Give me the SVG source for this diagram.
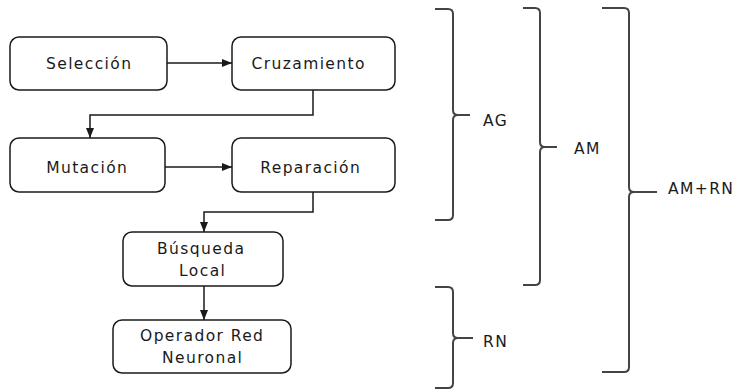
<svg xmlns="http://www.w3.org/2000/svg" width="739" height="391" viewBox="0 0 739 391">
<style>
.box{fill:#fff;stroke:#1a1a1a;stroke-width:1.5}
.t{font-family:"DejaVu Sans",Verdana,sans-serif;font-size:15.5px;letter-spacing:1.4px;fill:#1a1a1a;text-anchor:middle}
.lbl{font-family:"DejaVu Sans",Verdana,sans-serif;font-size:15.5px;letter-spacing:1.4px;fill:#1a1a1a}
.conn{fill:none;stroke:#1a1a1a;stroke-width:1.5;marker-end:url(#ah)}
.brace{fill:none;stroke:#444;stroke-width:2;stroke-linejoin:round}
</style>
<defs>
<marker id="ah" markerUnits="userSpaceOnUse" markerWidth="10" markerHeight="10" viewBox="0 0 10 10" refX="10" refY="5" orient="auto">
<path d="M0,1 L10,5 L0,9 Z" fill="#1a1a1a"/>
</marker>
</defs>
<rect width="739" height="391" fill="#fff"/>
<g id="connectors">
<path class="conn" d="M167,63 H232"/>
<path class="conn" d="M313,90 V115 H90 V138"/>
<path class="conn" d="M165,167 H232"/>
<path class="conn" d="M313,192 V212 H204 V232"/>
<path class="conn" d="M204,286 V320"/>
</g>
<g id="seleccion"><rect class="box" x="10" y="37" width="157" height="53" rx="9"/><text class="t" x="89.2" y="69">Selección</text></g>
<g id="cruzamiento"><rect class="box" x="232" y="37" width="163" height="53" rx="9"/><text class="t" x="308.7" y="69">Cruzamiento</text></g>
<g id="mutacion"><rect class="box" x="10" y="138" width="155" height="54" rx="9"/><text class="t" x="87.2" y="173">Mutación</text></g>
<g id="reparacion"><rect class="box" x="232" y="138" width="163" height="54" rx="9"/><text class="t" x="310.7" y="173">Reparación</text></g>
<g id="busqueda"><rect class="box" x="123" y="232" width="160" height="54" rx="9"/><text class="t" x="201.2" y="254">Búsqueda</text><text class="t" x="202.7" y="276">Local</text></g>
<g id="operador"><rect class="box" x="113" y="320" width="178" height="53" rx="9"/><text class="t" x="202.2" y="341">Operador Red</text><text class="t" x="202.7" y="363">Neuronal</text></g>
<g id="brace-ag"><path class="brace" d="M435,9 H448 Q453,9 453,14 V110 Q453,115 458,115 H470 M458,115 Q453,115 453,120 V215 Q453,220 448,220 H435"/><text class="lbl" x="483" y="126">AG</text></g>
<g id="brace-am"><path class="brace" d="M523,8 H535 Q540,8 540,13 V142 Q540,147 545,147 H557 M545,147 Q540,147 540,152 V280 Q540,285 535,285 H523"/><text class="lbl" x="574" y="154">AM</text></g>
<g id="brace-amrn"><path class="brace" d="M602,8 H624 Q629,8 629,13 V187 Q629,192 634,192 H657 M634,192 Q629,192 629,197 V367 Q629,372 624,372 H602"/><text class="lbl" x="668" y="194">AM+RN</text></g>
<g id="brace-rn"><path class="brace" d="M435,287 H448 Q453,287 453,292 V333 Q453,338 458,338 H473 M458,338 Q453,338 453,343 V383 Q453,388 448,388 H435"/><text class="lbl" x="483" y="347">RN</text></g>
</svg>
